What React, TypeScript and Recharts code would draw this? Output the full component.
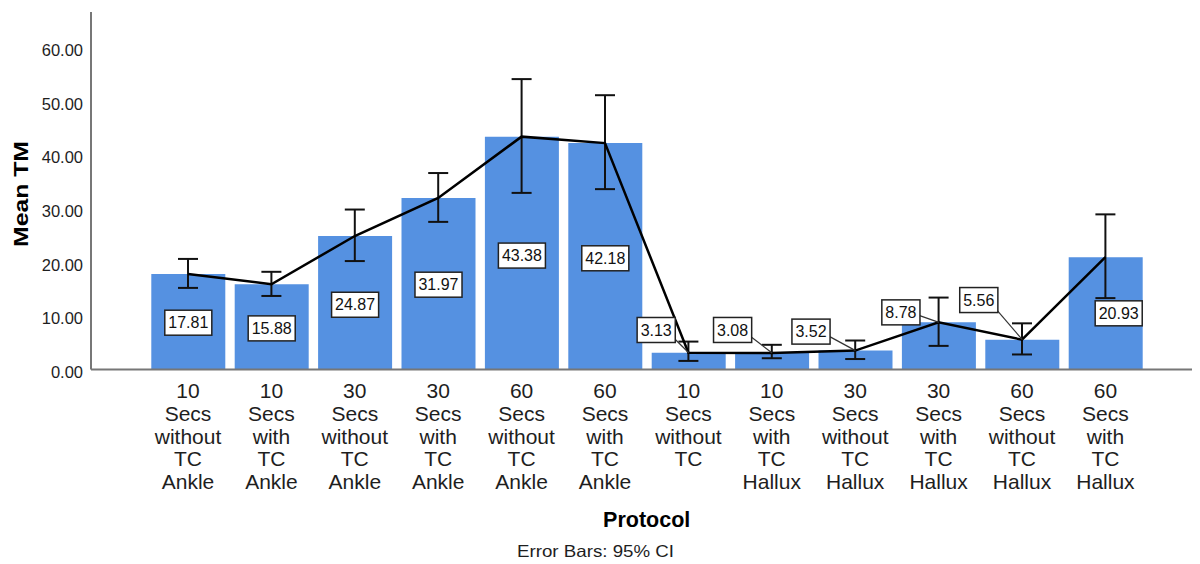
import React from 'react';
import { ComposedChart, Bar, Line, XAxis, YAxis, ErrorBar, LabelList } from 'recharts';

const categories = [
  '10 Secs without TC Ankle',
  '10 Secs with TC Ankle',
  '30 Secs without TC Ankle',
  '30 Secs with TC Ankle',
  '60 Secs without TC Ankle',
  '60 Secs with TC Ankle',
  '10 Secs without TC',
  '10 Secs with TC Hallux',
  '30 Secs without TC Hallux',
  '30 Secs with TC Hallux',
  '60 Secs without TC Hallux',
  '60 Secs with TC Hallux',
];
const meanTM = [17.81, 15.88, 24.87, 31.97, 43.38, 42.18, 3.13, 3.08, 3.52, 8.78, 5.56, 20.93];
const ciLower = [15.2, 13.7, 20.2, 27.5, 32.9, 33.6, 1.6, 2.1, 1.95, 4.4, 2.8, 13.3];
const ciUpper = [20.6, 18.2, 29.8, 36.6, 54.1, 51.1, 5.2, 4.6, 5.4, 13.4, 8.6, 28.9];
const yTicks = [0, 10, 20, 30, 40, 50, 60];

// label placement styles (pixel offsets relative to the bar's computed geometry)
const labelPlacement = [
  { mode: 'mid', dx: 0, dy: 1 },
  { mode: 'mid', dx: 0, dy: 1.5 },
  { mode: 'mid', dx: 0, dy: 2 },
  { mode: 'mid', dx: 0, dy: 1 },
  { mode: 'mid', dx: 0, dy: 2.5 },
  { mode: 'mid', dx: 0, dy: 2 },
  { mode: 'lead', dx: -32.5, dy: -22.7 },
  { mode: 'lead', dx: -39.5, dy: -23 },
  { mode: 'lead', dx: -44.5, dy: -19 },
  { mode: 'lead', dx: -38, dy: -10 },
  { mode: 'lead', dx: -43.5, dy: -39.6 },
  { mode: 'mid', dx: 13, dy: 0 },
];

const data = categories.map((name, i) => ({
  name,
  mean: meanTM[i],
  err: [+(meanTM[i] - ciLower[i]).toFixed(3), +(ciUpper[i] - meanTM[i]).toFixed(3)],
}));

const FONT = '"Liberation Sans", Arial, sans-serif';
const BAR_COLOR = '#5591e1';
const AXIS_COLOR = '#777777';

const XTick = (props: any) => {
  const { x, y, payload } = props;
  const lines = String(payload.value).split(' ');
  return (
    <g>
      <text x={x} y={y + 28.5} textAnchor="middle" fontFamily={FONT} fontSize={21} fill="#1e1e1e">
        {lines.map((ln, i) => (
          <tspan key={i} x={x} dy={i === 0 ? 0 : 22.8}>
            {ln}
          </tspan>
        ))}
      </text>
    </g>
  );
};

const YTick = (props: any) => {
  const { x, y, payload } = props;
  return (
    <text x={x} y={y + 8.5} textAnchor="end" fontFamily={FONT} fontSize={16.5} fill="#1e1e1e">
      {Number(payload.value).toFixed(2)}
    </text>
  );
};

const textWidth = (s: string, fs: number) => {
  let w = 0;
  for (const c of s) w += c === '.' ? 0.278 * fs : 0.556 * fs;
  return w;
};

const ValueLabel = (props: any) => {
  const { x, y, width, height, value } = props;
  let index = props.index;
  if (index === undefined || index === null) index = meanTM.indexOf(Number(value));
  const place = labelPlacement[index] || { mode: 'mid', dx: 0, dy: 0 };
  const fs = 16;
  const txt = Number(value).toFixed(2);
  const bw = textWidth(txt, fs) + 7;
  const bh = 25;
  const px = x + width / 2;
  const py = y;
  let cx: number;
  let cy: number;
  if (place.mode === 'mid') {
    cx = px + place.dx;
    cy = y + height / 2 + place.dy;
  } else {
    cx = px + place.dx;
    cy = py + place.dy;
  }
  return (
    <g>
      {place.mode === 'lead' && (
        <line x1={cx + bw / 4} y1={cy} x2={px} y2={py} stroke="#333" strokeWidth={1.2} />
      )}
      <rect x={cx - bw / 2} y={cy - bh / 2} width={bw} height={bh} fill="#ffffff" stroke="#222" strokeWidth={1.5} />
      <text x={cx} y={cy + 5.7} textAnchor="middle" fontFamily={FONT} fontSize={fs} fill="#111">
        {txt}
      </text>
    </g>
  );
};

export default function App() {
  const plotLeft = 91;
  const padL = 55.3;
  const padR = 44.9;
  const chartW = 1200;
  const marginR = 8;
  const plotW = chartW - plotLeft - marginR;
  const barsCenterX = plotLeft + padL + (plotW - padL - padR) / 2;
  return (
    <div style={{ position: 'absolute', left: 0, top: 0, width: 1200, height: 564, background: '#ffffff' }}>
      <ComposedChart
        width={1200}
        height={564}
        data={data}
        margin={{ top: 12, right: marginR, bottom: 0, left: 0 }}
      >
        <XAxis
          dataKey="name"
          interval={0}
          tickLine={false}
          tickSize={0}
          tickMargin={0}
          height={194.5}
          padding={{ left: padL, right: padR }}
          axisLine={{ stroke: AXIS_COLOR, strokeWidth: 2 }}
          tick={<XTick />}
        />
        <YAxis
          type="number"
          domain={[0, 66.6]}
          ticks={yTicks}
          width={91}
          tickLine={false}
          tickSize={0}
          tickMargin={8}
          axisLine={{ stroke: AXIS_COLOR, strokeWidth: 2 }}
          tick={<YTick />}
        />
        <Bar dataKey="mean" fill={BAR_COLOR} barSize={74} isAnimationActive={false}>
          <LabelList dataKey="mean" content={<ValueLabel />} />
        </Bar>
        <Line
          dataKey="mean"
          type="linear"
          stroke="#000"
          strokeWidth={2.5}
          dot={false}
          activeDot={false}
          isAnimationActive={false}
        >
          <ErrorBar dataKey="err" width={10} stroke="#111" strokeWidth={2} direction="y" />
        </Line>
      </ComposedChart>
      <svg
        width={1200}
        height={564}
        style={{ position: 'absolute', left: 0, top: 0, pointerEvents: 'none' }}
      >
        <text
          x={20}
          y={194}
          transform="rotate(-90 20 194)"
          textAnchor="middle"
          dominantBaseline="central"
          fontFamily={FONT}
          fontWeight="bold"
          fontSize={21}
          textLength={106}
          lengthAdjust="spacingAndGlyphs"
          fill="#000"
        >
          Mean TM
        </text>
        <text
          x={barsCenterX}
          y={527}
          textAnchor="middle"
          fontFamily={FONT}
          fontWeight="bold"
          fontSize={21.5}
          fill="#000"
        >
          Protocol
        </text>
        <text
          x={595.5}
          y={557}
          textAnchor="middle"
          fontFamily={FONT}
          fontSize={16.5}
          textLength={157}
          lengthAdjust="spacingAndGlyphs"
          fill="#1e1e1e"
        >
          Error Bars: 95% CI
        </text>
      </svg>
    </div>
  );
}
